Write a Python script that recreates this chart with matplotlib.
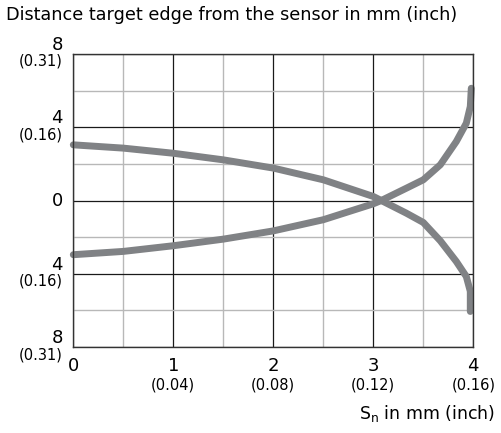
import matplotlib
matplotlib.use("Agg")
import matplotlib.pyplot as plt
from matplotlib.ticker import MultipleLocator
import matplotlib.transforms as mtrans

plt.rcParams['font.family'] = ['DejaVu Sans']

# ---- data ----
# falling curve
x_fall = [0, 0.5, 1, 1.5, 2, 2.5, 3, 3.08, 3.33, 3.5, 3.67, 3.83, 3.93, 3.97, 3.97]
y_fall = [3.04, 2.86, 2.58, 2.22, 1.77, 1.13, 0.22, 0.0, -0.69, -1.2, -2.2, -3.33, -4.15, -4.96, -6.06]
# rising curve
x_rise = [0, 0.5, 1, 1.5, 2, 2.5, 3, 3.08, 3.33, 3.5, 3.67, 3.83, 3.93, 3.97, 3.98]
y_rise = [-2.96, -2.78, -2.47, -2.11, -1.66, -1.05, -0.18, 0.0, 0.67, 1.13, 1.95, 3.22, 4.22, 5.13, 6.13]

x_ticks = [0, 1, 2, 3, 4]
x_inch = ["", "(0.04)", "(0.08)", "(0.12)", "(0.16)"]
y_ticks = [8, 4, 0, -4, -8]
y_mm = ["8", "4", "0", "4", "8"]
y_inch = ["(0.31)", "(0.16)", "", "(0.16)", "(0.31)"]

LINE_C = "#808285"

fig = plt.figure(figsize=(5.01, 4.33), dpi=100)
ax = fig.add_axes([73.3 / 501, 1 - 347 / 433, 400 / 501, 293 / 433])

ax.set_xlim(0, 4)
ax.set_ylim(-8, 8)
ax.xaxis.set_major_locator(MultipleLocator(1))
ax.xaxis.set_minor_locator(MultipleLocator(0.5))
ax.yaxis.set_major_locator(MultipleLocator(4))
ax.yaxis.set_minor_locator(MultipleLocator(2))
ax.grid(which="minor", color="#b8b8b8", lw=1.0)
ax.grid(which="major", color="#1a1a1a", lw=0.9)
ax.set_axisbelow(True)
ax.tick_params(which="both", length=0, labelbottom=False, labelleft=False)
for s in ax.spines.values():
    s.set_color("#333333")
    s.set_linewidth(1.0)

ax.plot(x_fall, y_fall, color=LINE_C, lw=5, solid_capstyle="round", solid_joinstyle="round", clip_on=False)
ax.plot(x_rise, y_rise, color=LINE_C, lw=5, solid_capstyle="round", solid_joinstyle="round", clip_on=False)

# y tick labels: mm value above line, inch value below
ytr = mtrans.blended_transform_factory(fig.transFigure, ax.transData)
for v, mm, inch in zip(y_ticks, y_mm, y_inch):
    if v == 0:
        ax.text(63 / 501, v, mm, transform=ytr, ha="right", va="center", fontsize=13)
        continue
    ax.text(63 / 501, v, mm, transform=ytr, ha="right", va="bottom", fontsize=13)
    ax.text(63 / 501, v, inch, transform=ytr, ha="right", va="top", fontsize=10.5)

# x tick labels
xtr = mtrans.blended_transform_factory(ax.transData, fig.transFigure)
for v, inch in zip(x_ticks, x_inch):
    ax.text(v, 1 - 366 / 433, str(v), transform=xtr, ha="center", va="center", fontsize=13)
    if inch:
        ax.text(v, 1 - 385 / 433, inch, transform=xtr, ha="center", va="center", fontsize=10.5)

fig.text(6 / 501, 1 - 15 / 433, "Distance target edge from the sensor in mm (inch)",
         ha="left", va="center", fontsize=12.7)
fig.text(495 / 501, 1 - 413 / 433, "S$_\\mathregular{n}$ in mm (inch)",
         ha="right", va="center", fontsize=12.5)

fig.savefig("out.png", dpi=100)
